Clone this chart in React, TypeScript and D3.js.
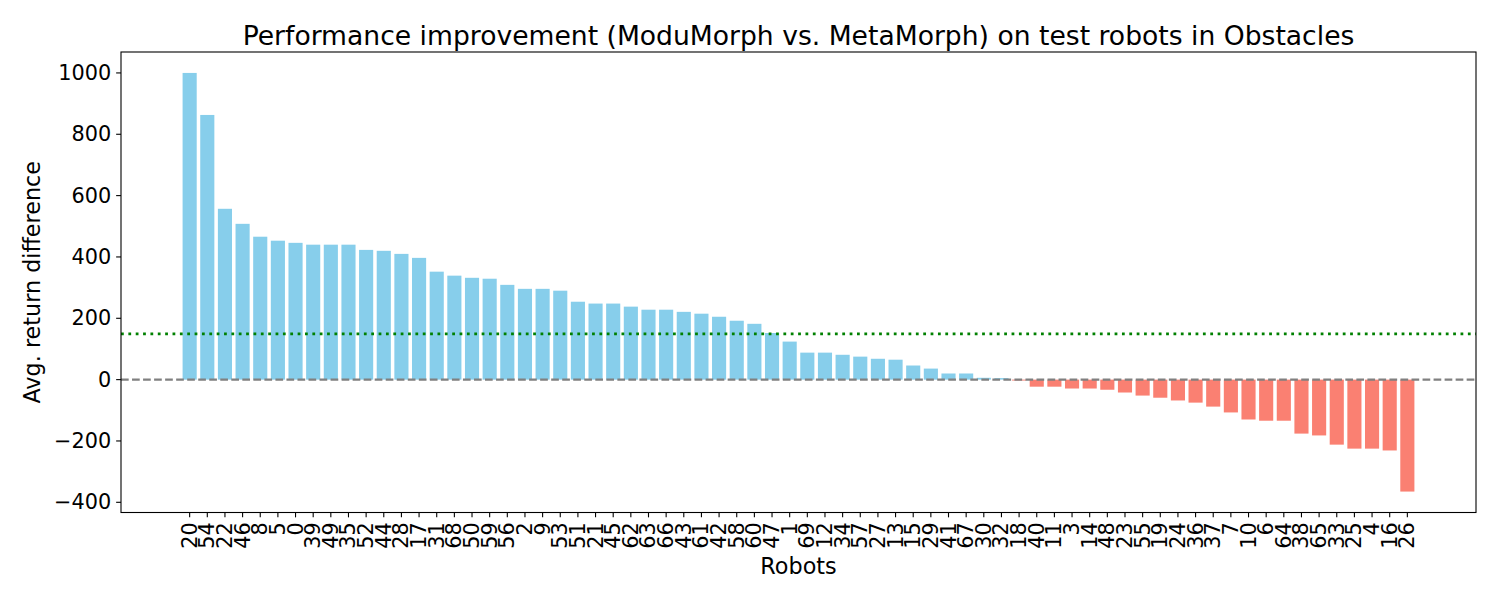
import React from "react";
import * as d3 from "d3";

const robots: string[] = [
  "20","54","22","46","8","5","0","39","49","35",
  "52","44","28","17","31","68","50","59","56","2",
  "9","53","51","21","45","62","63","66","43","61",
  "42","58","60","47","1","69","12","34","57","27",
  "13","15","29","41","67","30","32","18","40","11",
  "3","14","48","23","55","19","24","36","37","7",
  "10","6","64","38","65","33","25","4","16","26",
];

const differences: number[] = [
  1000, 863, 557, 508, 466, 453, 446, 440, 440, 440,
  423, 420, 410, 397, 352, 339, 332, 329, 309, 296,
  296, 290, 254, 248, 248, 238, 228, 228, 221, 215,
  205, 192, 182, 152, 124, 88, 88, 81, 75, 68,
  65, 46, 36, 20, 20, 6, 5, -3, -23, -23,
  -29, -29, -33, -42, -52, -59, -68, -75, -88, -107,
  -130, -134, -134, -176, -182, -212, -225, -225, -231, -365,
];

const meanLine = 149;
const yTicks: number[] = [-400, -200, 0, 200, 400, 600, 800, 1000];

const W = 1500, H = 600;
const left = 121, right = 1476, top = 52, bottom = 512.5;
const font = "DejaVu Sans, sans-serif";
const tickFont = 20.8;
const labelFont = 22.3;

export default function App() {
  const n = robots.length;
  const x0 = -0.4, x1 = n - 1 + 0.4;
  const xm = (x1 - x0) * 0.05;
  const x = d3.scaleLinear().domain([x0 - xm, x1 + xm]).range([left, right]);
  const dmin = d3.min(differences)!, dmax = d3.max(differences)!;
  const ym = (dmax - dmin) * 0.05;
  const y = d3.scaleLinear().domain([dmin - ym, dmax + ym]).range([bottom, top]);
  const bw = x(0.8) - x(0);
  const tickLen = 4.86;

  return (
    <div style={{ position: "absolute", left: 0, top: 0 }}>
      <svg width={W} height={H} style={{ display: "block", background: "#fff" }}>
        <text x={(left + right) / 2} y={44.5} textAnchor="middle" fontFamily={font} fontSize={26.6}>
          Performance improvement (ModuMorph vs. MetaMorph) on test robots in Obstacles
        </text>
        {differences.map((v, i) => (
          <rect
            key={i}
            x={x(i) - bw / 2}
            width={bw}
            y={Math.min(y(v), y(0))}
            height={Math.abs(y(v) - y(0))}
            fill={v >= 0 ? "#87CEEB" : "#FA8072"}
          />
        ))}
        <line x1={left} x2={right} y1={y(0)} y2={y(0)} stroke="#808080" strokeWidth={2.08} strokeDasharray="7.7,3.33" />
        <line x1={left} x2={right} y1={y(meanLine)} y2={y(meanLine)} stroke="#008000" strokeWidth={2.78} strokeDasharray="2.78,4.58" />
        <rect x={left} y={top} width={right - left} height={bottom - top} fill="none" stroke="#000" strokeWidth={1.1} />
        {yTicks.map((t) => (
          <g key={t}>
            <line x1={left - tickLen} x2={left} y1={y(t)} y2={y(t)} stroke="#000" strokeWidth={1.1} />
            <text x={left - tickLen - 5} y={y(t)} textAnchor="end" dominantBaseline="central" fontFamily={font} fontSize={tickFont}>
              {t < 0 ? "\u2212" + Math.abs(t) : String(t)}
            </text>
          </g>
        ))}
        {robots.map((r, i) => (
          <g key={i}>
            <line x1={x(i)} x2={x(i)} y1={bottom} y2={bottom + tickLen} stroke="#000" strokeWidth={1.1} />
            <text
              transform={`translate(${x(i)},${bottom + tickLen + 5}) rotate(-90)`}
              textAnchor="end"
              dominantBaseline="central"
              fontFamily={font}
              fontSize={tickFont}
            >
              {r}
            </text>
          </g>
        ))}
        <text x={(left + right) / 2} y={574} textAnchor="middle" fontFamily={font} fontSize={labelFont}>
          Robots
        </text>
        <text
          transform={`translate(40,${(top + bottom) / 2}) rotate(-90)`}
          textAnchor="middle"
          fontFamily={font}
          fontSize={labelFont}
        >
          Avg. return difference
        </text>
      </svg>
    </div>
  );
}
